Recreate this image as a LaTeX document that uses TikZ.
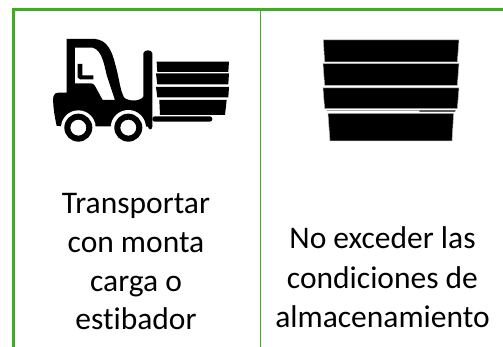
\documentclass[tikz,border=0pt]{standalone}
\usepackage{fontspec}
\setmainfont[RawFeature={-liga;-dlig;-clig}]{Carlito}
\definecolor{gline}{HTML}{3CAF1E}
\tikzset{
  lbl/.style={anchor=base,font=\fontsize{31.5}{31.5}\selectfont,text=black,inner sep=0pt},
  grule/.style={draw=gline,line width=#1},
  ink/.style={fill=black,draw=none},
  lightedge/.style={fill=black,draw=black!30,line width=0.5pt}
}
\begin{document}
\begin{tikzpicture}[x=1pt,y=-1pt]
\useasboundingbox (0,0) rectangle (503,347);
\fill[white] (0,0) rectangle (503,347);
% table rules
\draw[grule=3pt] (13.8,347) -- (13.8,9.5) -- (503,9.5);
\draw[grule=1.3pt] (260.8,9.5) -- (260.8,347);
% forklift
\begin{scope}[x=0.3333pt,y=-0.3333pt]
  \fill[ink,even odd rule]
    (200,117) -- (285,117) .. controls (320,120) and (335,150) .. (345,190)
    .. controls (358,235) and (360,270) .. (372,292)
    .. controls (382,304) and (420,306) .. (430,290)
    -- (430,160) .. controls (432,148) and (456,148) .. (457,160)
    -- (457,380) .. controls (456,391) and (446,391) .. (444,380)
    -- (170,378) .. controls (162,340) and (158,310) .. (160,290)
    .. controls (161,281) and (168,278) .. (175,278) -- (200,278) -- cycle
    (225,143) -- (278,143) .. controls (305,150) and (312,190) .. (320,225)
    -- (345,300) -- (308,300) -- (285,258) .. controls (282,252) and (278,250) .. (272,250)
    -- (225,250) -- cycle;
  \fill[ink] (233,192) -- (247,192) -- (247,226) -- (280,226) -- (280,238) -- (240,238) -- (233,232) -- cycle;
  \fill[ink,rounded corners=2.5pt] (457,349) -- (637,349) -- (637,365) -- (457,365) -- cycle;
  \fill[white] (235,383) circle (52);
  \fill[white] (385,383) circle (53);
  \fill[white] (160,400) rectangle (180,440);
  \fill[ink,even odd rule] (235,383) circle (42) (235,383) circle (24);
  \fill[ink,even odd rule] (385,383) circle (42) (385,383) circle (24);
  \fill[ink] (470,185) -- (687,185) -- (685,216) -- (472,216) -- cycle;
  \fill[ink] (468,220) -- (687,220) -- (685,253) -- (472,253) -- cycle;
  \fill[ink] (468,261) -- (687,261) -- (685,292) -- (472,292) -- cycle;
  \fill[ink] (478,300) -- (680,300) -- (675,345) -- (480,345) -- cycle;
\end{scope}
% stack
\begin{scope}[shift={(250,0)},x=0.3333pt,y=-0.3333pt]
  \fill[lightedge] (220,120) -- (627,120) -- (622,186) -- (224,186) -- cycle;
  \fill[lightedge] (219,191) -- (627,191) -- (622,256) -- (224,256) -- cycle;
  \fill[lightedge] (219,264) -- (627,264) -- (622,326) -- (224,326) -- cycle;
  \fill[black!35] (230,329) rectangle (508,334);
  \fill[ink] (508,331) -- (617,331) -- (615,335) -- (508,335) -- cycle;
  \fill[lightedge] (234,340) -- (611,340) -- (606,423) -- (240,423) -- cycle;
\end{scope}
% labels
\node[lbl] (t1) at (136,214) {Transportar};
\node[lbl] (t2) at (136,253) {con monta};
\node[lbl] (t3) at (136,291) {carga o};
\node[lbl] (t4) at (136,329) {estibador};
\node[lbl] (u1) at (382.5,249) {No exceder las};
\node[lbl] (u2) at (382.5,288) {condiciones de};
\node[lbl] (u3) at (382.5,327) {almacenamiento};
\end{tikzpicture}
\end{document}
